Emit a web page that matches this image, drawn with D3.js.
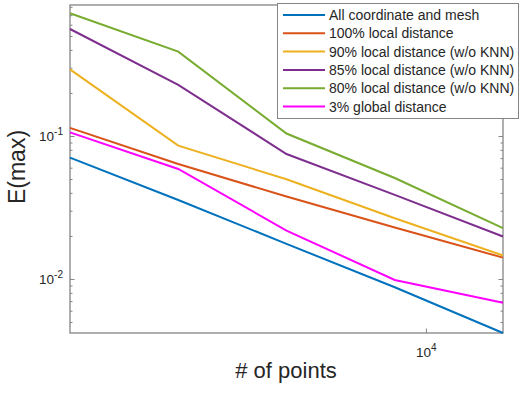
<!DOCTYPE html>
<html>
<head>
<meta charset="utf-8">
<script src="https://cdn.jsdelivr.net/npm/d3@7"></script>
<style>
  body { margin: 0; background: #fff; }
  svg { font-family: "Liberation Sans", Arial, sans-serif; }
</style>
</head>
<body>
<div id="app"></div>
<script>
// number of points (x) and E(max) per method
const pointsN = [1024, 2048, 4096, 8192, 16384]
const allCoord = [0.0705, 0.0357, 0.0176, 0.00875, 0.00419]
const local100 = [0.114, 0.0637, 0.0377, 0.0229, 0.0141]
const local90 = [0.292, 0.0856, 0.0498, 0.0266, 0.0146]
const local85 = [0.560, 0.228, 0.0748, 0.0387, 0.0198]
const local80 = [0.721, 0.389, 0.104, 0.0508, 0.0227]
const global3 = [0.106, 0.0588, 0.0218, 0.00984, 0.00683]

const seriesNames = [
    "All coordinate and mesh",
    "100% local distance",
    "90% local distance (w/o KNN)",
    "85% local distance (w/o KNN)",
    "80% local distance (w/o KNN)",
    "3% global distance"
]
const seriesValues = [allCoord, local100, local90, local85, local80, global3]
const colors = ["#0072BD", "#D95319", "#EDB120", "#7E2F8E", "#77AC30", "#FF00FF"]

const xTicks = [1e4]
const yTicks = [1e-2, 1e-1]
const xDomain = [1024, 16384]
const yDomain = [0.00419, 0.824]

const width = 526, height = 394
const plotLeft = 70, plotRight = 503, plotTop = 5, plotBottom = 333
const axisColor = "#858585"
const textColor = "#262626"

const svg = d3.select('#app')
    .append('svg')
    .attr('width', width)
    .attr('height', height)

const x = d3.scaleLog().domain(xDomain).range([plotLeft, plotRight])
const y = d3.scaleLog().domain(yDomain).range([plotBottom, plotTop])

// minor ticks on y (2..9 per decade inside the domain)
const yMinor = []
for (let e = -3; e <= 0; e++) {
    for (let m = 2; m <= 9; m++) {
        const v = m * Math.pow(10, e)
        if (v > yDomain[0] && v < yDomain[1]) yMinor.push(v)
    }
}

function styleAxis(g) {
    g.select('.domain').remove()
    g.selectAll('line').attr('stroke', axisColor).attr('stroke-width', 1)
}

// y ticks, inward on left and right
svg.append('g').attr('transform', `translate(${plotLeft},0)`)
    .call(d3.axisLeft(y).tickValues(yMinor).tickSize(-2.5).tickFormat(''))
    .call(styleAxis)
svg.append('g').attr('transform', `translate(${plotLeft},0)`)
    .call(d3.axisLeft(y).tickValues(yTicks).tickSize(-4.5).tickFormat(''))
    .call(styleAxis)
svg.append('g').attr('transform', `translate(${plotRight},0)`)
    .call(d3.axisRight(y).tickValues(yMinor).tickSize(-2.5).tickFormat(''))
    .call(styleAxis)
svg.append('g').attr('transform', `translate(${plotRight},0)`)
    .call(d3.axisRight(y).tickValues(yTicks).tickSize(-4.5).tickFormat(''))
    .call(styleAxis)

// x ticks, inward on bottom and top
svg.append('g').attr('transform', `translate(0,${plotBottom})`)
    .call(d3.axisBottom(x).tickValues(xTicks).tickSize(-4.5).tickFormat(''))
    .call(styleAxis)
svg.append('g').attr('transform', `translate(0,${plotTop})`)
    .call(d3.axisTop(x).tickValues(xTicks).tickSize(-4.5).tickFormat(''))
    .call(styleAxis)

// tick labels with superscripts
const yLab = svg.selectAll('.ylab')
    .data(yTicks)
    .enter()
    .append('text')
    .attr('class', 'ylab')
    .attr('x', plotLeft - 7)
    .attr('y', d => y(d) + 5)
    .attr('text-anchor', 'end')
    .attr('fill', textColor)
    .style('font-size', '13.5px')
yLab.append('tspan').text('10')
yLab.append('tspan').attr('dy', -6).style('font-size', '10px').text(d => Math.round(Math.log10(d)))

const xLab = svg.selectAll('.xlab')
    .data(xTicks)
    .enter()
    .append('text')
    .attr('class', 'xlab')
    .attr('x', d => x(d) - 10)
    .attr('y', plotBottom + 24)
    .attr('fill', textColor)
    .style('font-size', '13.5px')
xLab.append('tspan').text('10')
xLab.append('tspan').attr('dy', -6).style('font-size', '10px').text(d => Math.round(Math.log10(d)))

// box
svg.append('rect')
    .attr('x', plotLeft).attr('y', plotTop)
    .attr('width', plotRight - plotLeft).attr('height', plotBottom - plotTop)
    .attr('fill', 'none')
    .attr('stroke', axisColor)
    .attr('stroke-width', 1.3)

// lines
const line = d3.line()
    .x((d, i) => x(pointsN[i]))
    .y(d => y(d))

svg.selectAll('.series')
    .data(seriesValues)
    .enter()
    .append('path')
    .attr('class', 'series')
    .attr('d', d => line(d))
    .attr('fill', 'none')
    .attr('stroke', (d, i) => colors[i])
    .attr('stroke-width', 2)

// axis labels
svg.append('text')
    .attr('x', 286)
    .attr('y', 378)
    .attr('text-anchor', 'middle')
    .attr('fill', textColor)
    .style('font-size', '22px')
    .text('# of points')

svg.append('text')
    .attr('transform', `translate(25,167) rotate(-90)`)
    .attr('text-anchor', 'middle')
    .attr('fill', textColor)
    .style('font-size', '23px')
    .text('E(max)')

// legend
const lg = svg.append('g')
lg.append('rect')
    .attr('x', 277.5).attr('y', 3.5)
    .attr('width', 241).attr('height', 115)
    .attr('fill', '#fff')
    .attr('stroke', axisColor)
    .attr('stroke-width', 1)

const rows = lg.selectAll('.row')
    .data(seriesNames)
    .enter()
    .append('g')
    .attr('transform', (d, i) => `translate(0,${15 + i * 18.3})`)
rows.append('line')
    .attr('x1', 283).attr('x2', 325)
    .attr('stroke', (d, i) => colors[i])
    .attr('stroke-width', 2)
rows.append('text')
    .attr('x', 329)
    .attr('y', 5)
    .attr('fill', textColor)
    .style('font-size', '14px')
    .text(d => d)
</script>
</body>
</html>
